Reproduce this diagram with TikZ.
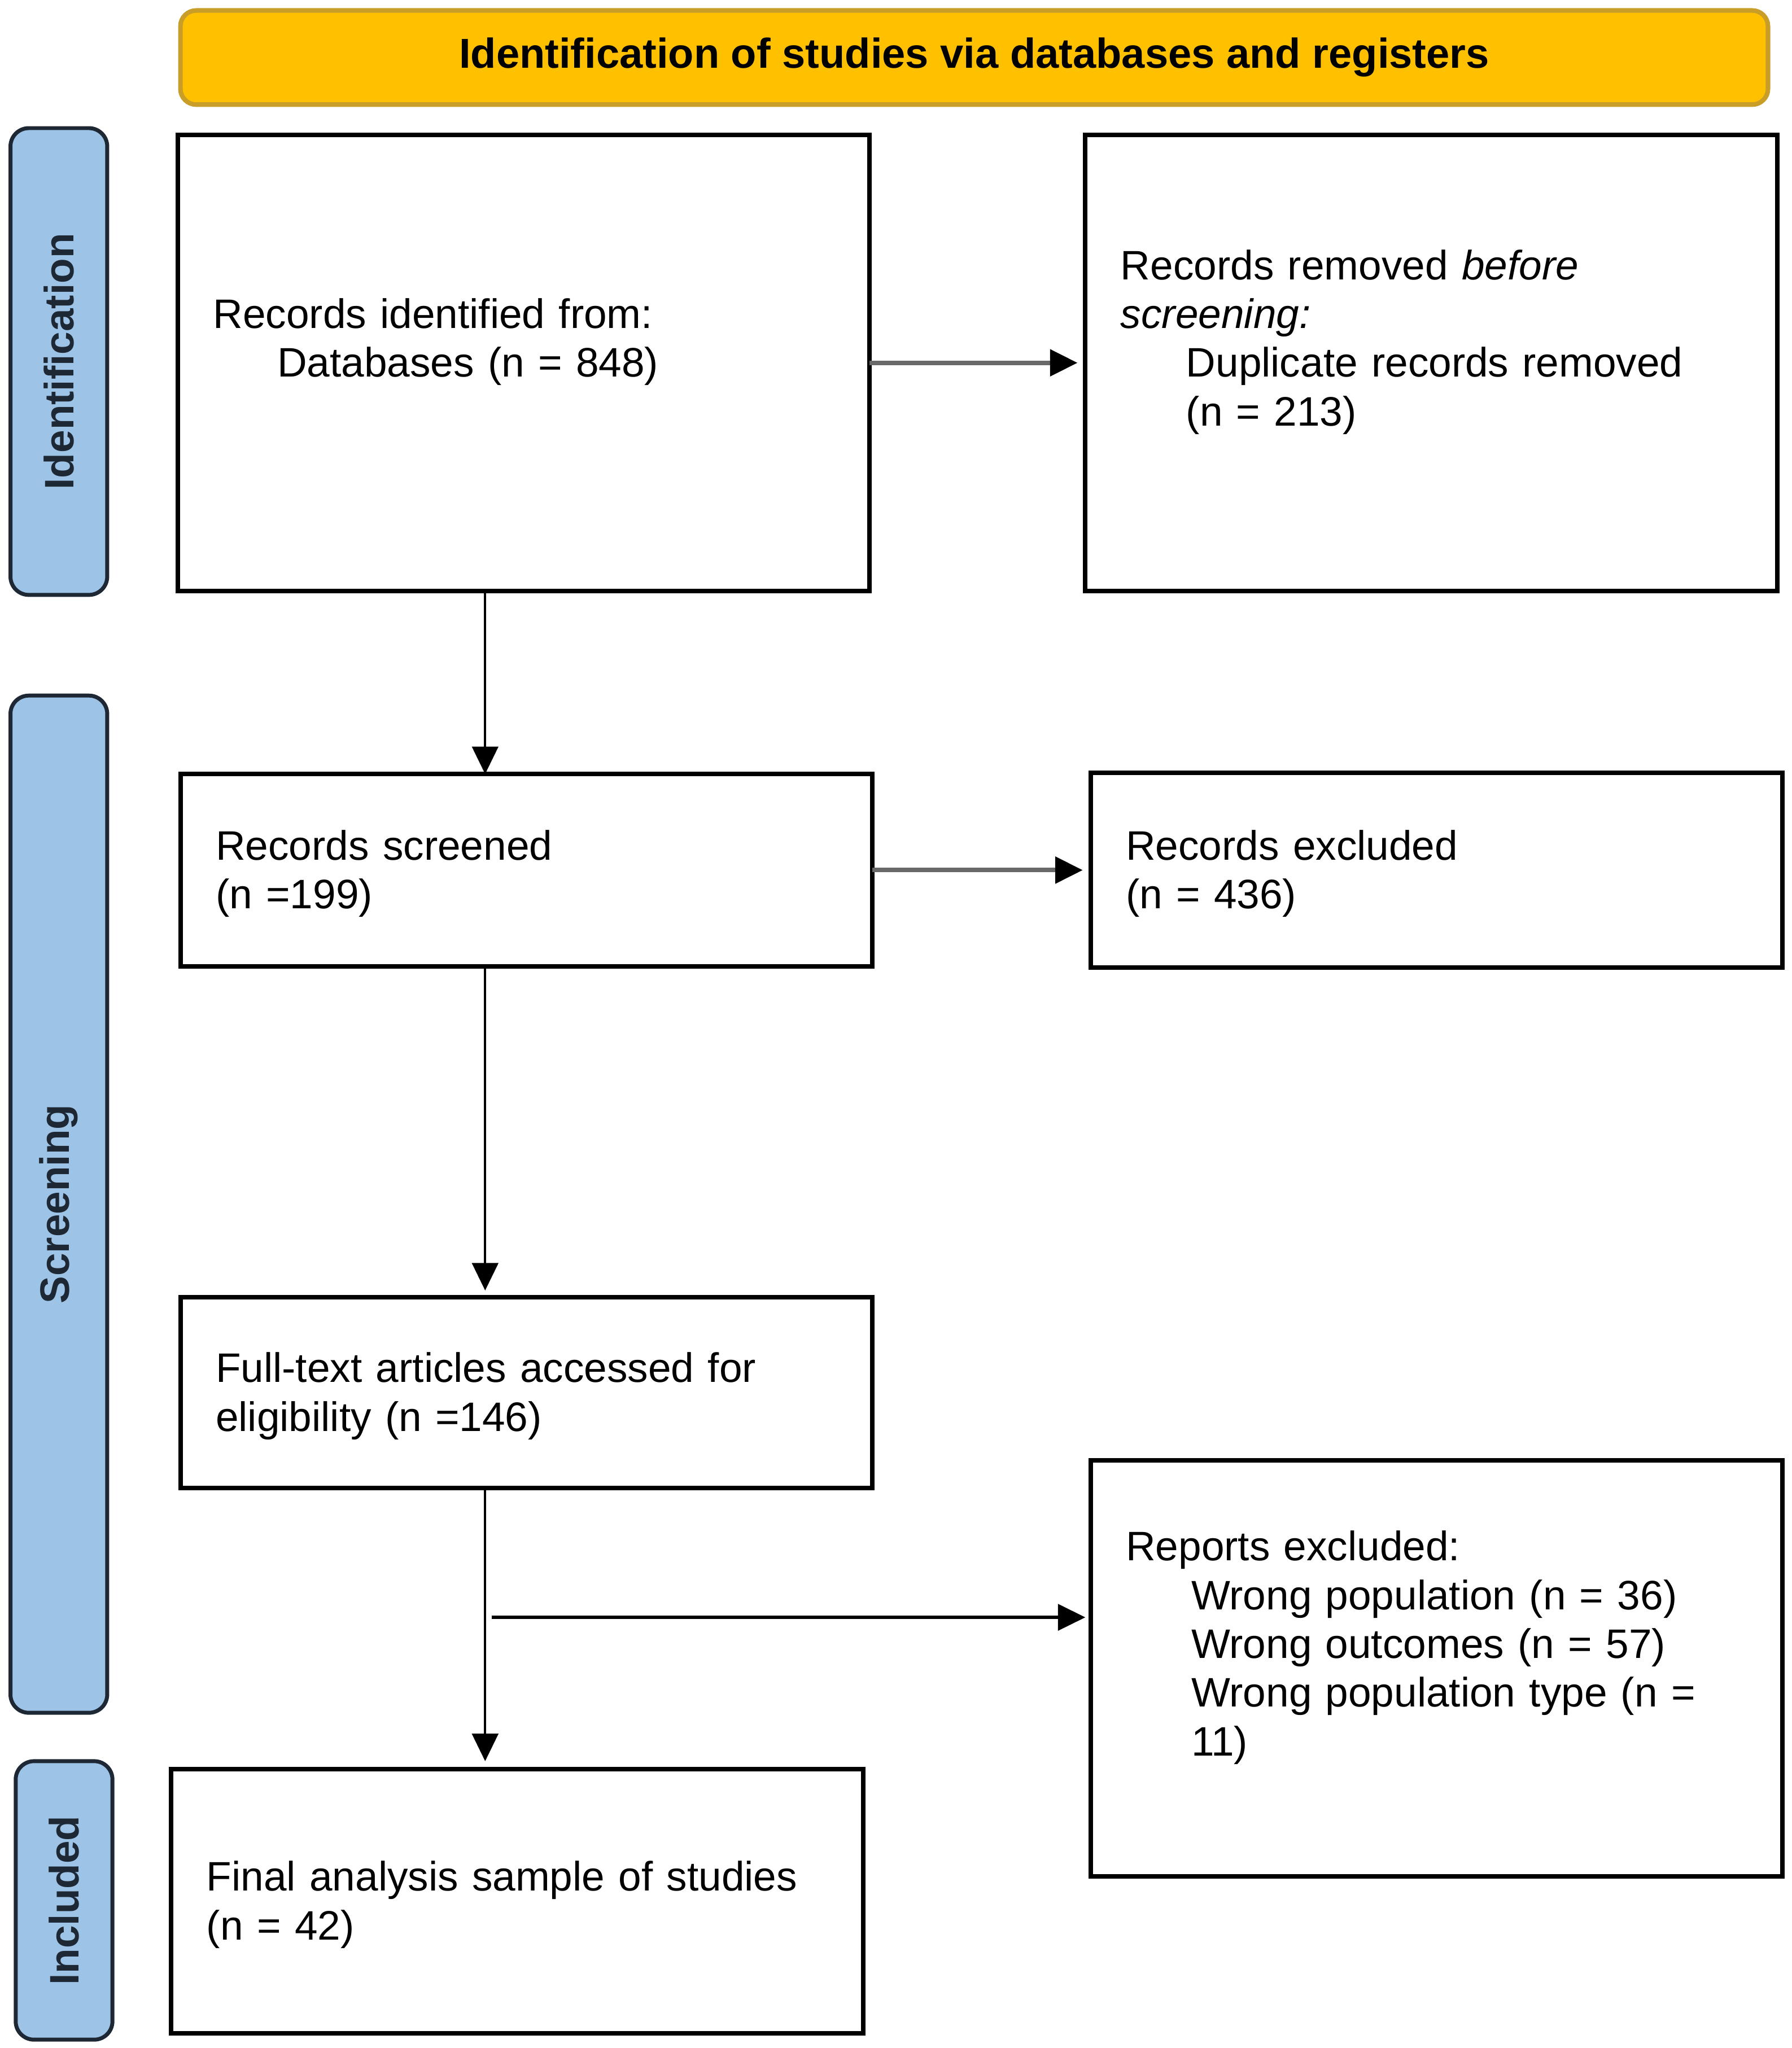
\documentclass[tikz,border=0pt]{standalone}
\usepackage{fontspec}
\setmainfont{Liberation Sans}
\usepackage{tikz}
\usetikzlibrary{arrows.meta,positioning}
\definecolor{headfill}{RGB}{255,192,0}
\definecolor{headdraw}{RGB}{200,158,40}
\definecolor{barfill}{RGB}{157,195,230}
\definecolor{bardraw}{RGB}{30,40,52}
\definecolor{arrowgray}{RGB}{105,105,105}

\begin{document}
\begin{tikzpicture}[x=1pt, y=-1pt, node distance=165pt, auto,
    box/.style={draw=black, line width=3.5pt, rectangle, anchor=north west, align=left,
                text width=475pt, inner xsep=27pt, inner ysep=0pt, outer sep=0pt,
                execute at begin node={\rule{0pt}{33pt}}, execute at end node=\strut,
                font=\fontsize{31.5}{37.3}\selectfont},
    head/.style={draw=headdraw, fill=headfill, line width=3.5pt, rounded corners=12pt,
                minimum width=1214pt, minimum height=72pt, inner sep=0pt,
                font=\bfseries\fontsize{32}{38}\selectfont},
    bar/.style={draw=bardraw, fill=barfill, line width=3pt, rounded corners=14pt, rotate=90,
                minimum height=74pt, inner sep=0pt, text=bardraw,
                font=\bfseries\fontsize{31.5}{37.3}\selectfont},
    every edge/.style={draw, solid},
    grayarrow/.style={draw=arrowgray, line width=3.5pt, shorten >=6pt,
                -{Triangle[length=21pt,width=20pt,color=black]}},
    thinarrow/.style={line width=1.8pt},
    >={Triangle[length=21pt,width=20pt]}]

\useasboundingbox (0,0) rectangle (1370,1566.4);

\node[head] (title) at (745,44) {Identification of studies via databases and registers};

\node[bar, minimum width=357pt] (idbar) at (45,276.5) {Identification};
\node[bar, minimum width=778pt] (scrbar) at (45,921) {Screening};
\node[bar, minimum width=213pt] (incbar) at (49,1453.5) {Included};

\node[box, minimum height=349pt] (ident) at (136,103)
  {Records identified from:\\ \hspace*{49pt}Databases (n = 848)\\};
\node[box, minimum height=349pt] (dup) [right=of ident]
  {Records removed \textit{before}\\ \textit{screening:}\\
   \hspace*{50pt}Duplicate records removed\\ \hspace*{50pt}(n = 213)\\};
\node[box, minimum height=147pt] (scr) at (138,592) {Records screened\\ (n =199)};
\node[box, minimum height=149pt] (excl) [right=167pt of scr] {Records excluded\\ (n = 436)};
\node[box, minimum height=146pt] (full) at (138,992)
  {Full-text articles accessed for\\ eligibility (n =146)};
\node[box, minimum height=318pt] (rep) at (834,1117)
  {Reports excluded:\\ \hspace*{50pt}Wrong population (n = 36)\\
   \hspace*{50pt}Wrong outcomes (n = 57)\\ \hspace*{50pt}Wrong population type (n =\\
   \hspace*{50pt}11)\\};
\node[box, minimum height=202pt] (fin) at (131,1353)
  {Final analysis sample of studies\\ (n = 42)};

\coordinate (spine) at (371,0);
\coordinate (split) at (376,1237);

\path[->]
(ident) edge [grayarrow] (dup)
(scr) edge [grayarrow] (excl)
(ident.south -| spine) edge [thinarrow] (scr.north -| spine)
(scr.south -| spine) edge [thinarrow, shorten >=5pt] (full.north -| spine)
(full.south -| spine) edge [thinarrow, shorten >=6pt] (fin.north -| spine)
(split) edge [line width=2.5pt, shorten >=4pt] (split -| rep.west);
\end{tikzpicture}
\end{document}
